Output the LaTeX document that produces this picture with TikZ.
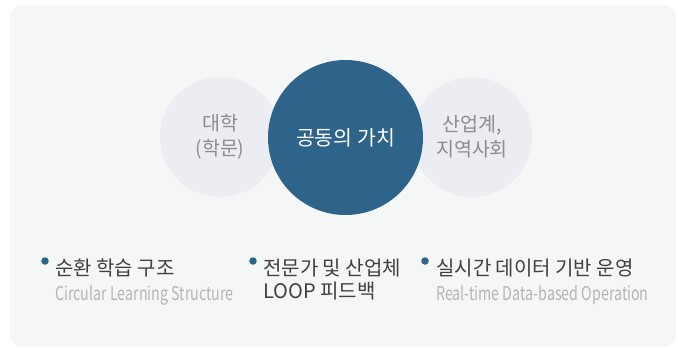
\documentclass[tikz,border=0pt]{standalone}
\usepackage{fontspec}
\setmainfont{Noto Sans CJK KR}
\newfontfamily\krfont{Noto Sans CJK KR}
\newfontfamily\engfont[FakeStretch=0.75]{Noto Sans CJK KR}
\definecolor{bgpanel}{HTML}{F5F7F7}
\definecolor{mainblue}{HTML}{2E6489}
\definecolor{sidecirc}{HTML}{ECEDF3}
\definecolor{sidetext}{HTML}{8C8C8C}
\definecolor{itemtext}{HTML}{404040}
\definecolor{subtext}{HTML}{B4B4B4}
\tikzset{
  sidenode/.style={circle, fill=sidecirc, minimum size=120pt, inner sep=0pt, text=sidetext,
    align=center, font=\krfont\fontsize{19.5}{25}\selectfont},
  mainnode/.style={circle, fill=mainblue, minimum size=155pt, inner sep=0pt, text=white,
    font=\krfont\fontsize{20.5}{24}\selectfont},
  bulletdot/.style={circle, fill=mainblue, minimum size=7.5pt, inner sep=0pt},
  itemhead/.style={anchor=base west, inner sep=0pt, text=itemtext, font=\krfont\fontsize{20}{23}\selectfont},
  itemsub/.style={anchor=base west, inner sep=0pt, text=subtext, font=\engfont\fontsize{19}{20}\selectfont},
}
\begin{document}
\begin{tikzpicture}[x=1pt, y=-1pt]
\useasboundingbox (0,0) rectangle (678,349);
\fill[bgpanel, rounded corners=12pt] (10,5) rectangle (676,347);
\node[sidenode] (uni) at (220,137) {대학\\(학문)};
\node[sidenode] (ind) at (472,137) {산업계,\\지역사회};
\node[mainnode] (core) at (345.5,137.5) {공동의 가치};
% items
\node[bulletdot] (d1) at (45,261) {};
\node[itemhead] (h1) at (55,275) {순환 학습 구조};
\node[itemsub] (s1) at (55,300) {Circular Learning Structure};
\node[bulletdot] (d2) at (253,261) {};
\node[itemhead] (h2) at (263,275) {전문가 및 산업체};
\node[itemhead] (s2) at (263,298) {LOOP 피드백};
\node[bulletdot] (d3) at (425,261) {};
\node[itemhead] (h3) at (436,275) {실시간 데이터 기반 운영};
\node[itemsub] (s3) at (436,300) {Real-time Data-based Operation};
\end{tikzpicture}
\end{document}
